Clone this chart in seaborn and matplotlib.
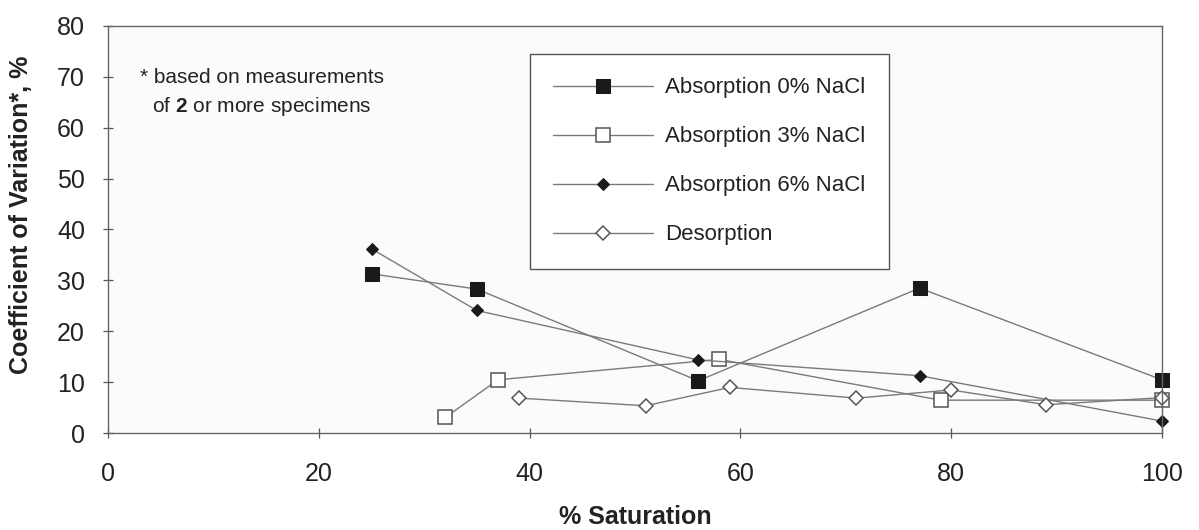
import matplotlib
matplotlib.use("Agg")
import matplotlib.pyplot as plt
import seaborn as sns
import pandas as pd

# Coefficient of variation vs. degree of saturation
abs0_x = [25, 35, 56, 77, 100]
abs0_y = [31.3, 28.3, 10.3, 28.5, 10.5]

abs3_x = [32, 37, 58, 79, 100]
abs3_y = [3.1, 10.5, 14.5, 6.5, 6.5]

abs6_x = [25, 35, 56, 77, 100]
abs6_y = [36.2, 24.1, 14.4, 11.3, 2.4]

des_x = [39, 51, 59, 71, 80, 89, 100]
des_y = [6.9, 5.4, 9.0, 6.9, 8.5, 5.6, 7.0]

series_labels = ["Absorption 0% NaCl", "Absorption 3% NaCl",
                 "Absorption 6% NaCl", "Desorption"]
x_ticks = [0, 20, 40, 60, 80, 100]
y_ticks = [0, 10, 20, 30, 40, 50, 60, 70, 80]

sns.set_theme(style="white")
plt.rcParams["font.family"] = ["Liberation Sans", "DejaVu Sans"]
plt.rcParams["mathtext.fontset"] = "custom"
plt.rcParams["mathtext.rm"] = "Liberation Sans"
plt.rcParams["mathtext.bf"] = "Liberation Sans:bold"

fig = plt.figure(figsize=(11.99, 5.30), dpi=100)
ax = fig.add_axes([0.0901, 0.1825, 0.8790, 0.7690])
ax.set_facecolor("#fbfbfb")

line_kw = dict(color="#7a7a7a", linewidth=1.0, estimator=None, clip_on=False)

styles = [
    (abs0_x, abs0_y, dict(marker="s", markersize=10, markerfacecolor="#1a1a1a",
                          markeredgecolor="#1a1a1a")),
    (abs3_x, abs3_y, dict(marker="s", markersize=10, markerfacecolor="white",
                          markeredgecolor="#555555", markeredgewidth=1.1)),
    (abs6_x, abs6_y, dict(marker="D", markersize=6, markerfacecolor="#1a1a1a",
                          markeredgecolor="#1a1a1a")),
    (des_x, des_y, dict(marker="D", markersize=7, markerfacecolor="white",
                        markeredgecolor="#555555", markeredgewidth=1.1)),
]

for (xs, ys, mk), label in zip(styles, series_labels):
    df = pd.DataFrame({"sat": xs, "cov": ys})
    sns.lineplot(data=df, x="sat", y="cov", ax=ax, label=label,
                 sort=False, **line_kw, **mk)

ax.set_xlim(0, 100)
ax.set_ylim(0, 80)
ax.set_xticks(x_ticks)
ax.set_yticks(y_ticks)
ax.set_xticklabels([str(v) for v in x_ticks], fontsize=18, color="#222222")
ax.set_yticklabels([str(v) for v in y_ticks], fontsize=18, color="#222222")
ax.tick_params(axis="both", which="major", direction="inout", length=7,
               width=0.9, color="#555555", bottom=True, left=True)
ax.tick_params(axis="x", pad=17)
ax.tick_params(axis="y", pad=13)

for side in ["left", "bottom", "top", "right"]:
    ax.spines[side].set_visible(True)
    ax.spines[side].set_color("#666666")
    ax.spines[side].set_linewidth(1.0)

ax.set_xlabel("% Saturation", fontsize=18, fontweight="bold", color="#222222")
ax.set_ylabel("Coefficient of Variation*, %", fontsize=18, fontweight="bold",
              color="#222222")
ax.xaxis.label.set_verticalalignment("baseline")
ax.xaxis.set_label_coords(0.5, -0.223)
ax.yaxis.set_label_coords(-0.071, 0.536)

ax.text(0.0304, 0.874, "* based on measurements", transform=ax.transAxes,
        fontsize=15, color="#222222", va="center", ha="left")
ax.text(0.0417, 0.801, r"of $\mathbf{2}$ or more specimens", transform=ax.transAxes,
        fontsize=15, color="#222222", va="center", ha="left")

leg = ax.legend(loc="upper left", bbox_to_anchor=(0.400, 0.9306),
                fontsize=16, frameon=True, fancybox=False, shadow=False,
                handlelength=4.5, handletextpad=0.54, labelspacing=1.26,
                borderpad=1.05, borderaxespad=0.0)
frame = leg.get_frame()
frame.set_edgecolor("#555555")
frame.set_linewidth(1.0)
frame.set_facecolor("white")
frame.set_alpha(1.0)
for txt in leg.get_texts():
    txt.set_color("#222222")

fig.savefig("out.png", dpi=100)
